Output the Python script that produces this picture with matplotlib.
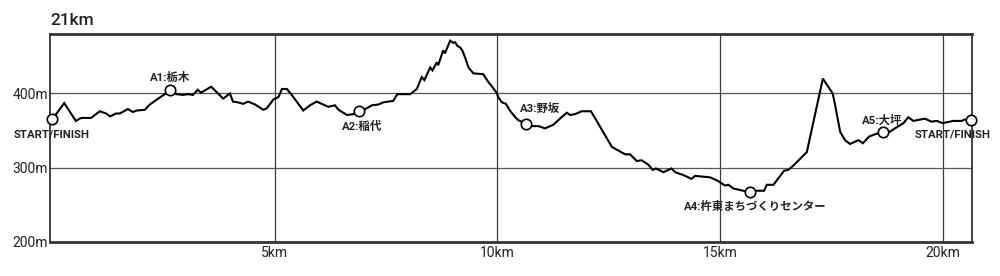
import matplotlib
matplotlib.use("Agg")
import matplotlib.pyplot as plt

plt.rcParams["font.family"] = ["Roboto", "Noto Sans CJK JP", "DejaVu Sans"]

# course profile: distance (km) and elevation (m)
distance_km = [
    0.00, 0.27, 0.53, 0.65, 0.87, 1.07, 1.21, 1.30, 1.43, 1.52, 1.70, 1.81, 1.90,
    2.08, 2.19, 2.38, 2.65, 2.79, 2.94, 3.05, 3.16, 3.27, 3.34, 3.57, 3.69, 3.84,
    3.99, 4.06, 4.17, 4.29, 4.40, 4.56, 4.74, 4.82, 4.97, 5.08, 5.16, 5.27, 5.38,
    5.64, 5.79, 5.94, 6.20, 6.35, 6.43, 6.62, 6.76, 6.90, 7.03, 7.18, 7.32, 7.44,
    7.66, 7.75, 8.04, 8.19, 8.30, 8.36, 8.49, 8.54, 8.64, 8.67, 8.71, 8.78, 8.82,
    8.94, 9.01, 9.05, 9.10, 9.16, 9.21, 9.27, 9.35, 9.46, 9.68, 9.80, 9.87, 9.98,
    10.02, 10.10, 10.19, 10.28, 10.40, 10.47, 10.64, 10.73, 10.92, 11.07, 11.26,
    11.44, 11.56, 11.63, 11.74, 11.89, 12.10, 12.23, 12.57, 12.87, 12.98, 13.13,
    13.24, 13.39, 13.49, 13.56, 13.73, 13.91, 13.99, 14.18, 14.36, 14.44, 14.78,
    14.96, 15.11, 15.19, 15.30, 15.45, 15.67, 15.82, 15.99, 16.05, 16.20, 16.44,
    16.53, 16.65, 16.95, 17.31, 17.53, 17.58, 17.70, 17.81, 17.92, 18.03, 18.11,
    18.21, 18.35, 18.48, 18.65, 18.75, 18.93, 19.12, 19.23, 19.34, 19.60, 19.75,
    19.87, 20.00, 20.24, 20.43, 20.50, 20.63,
]
elevation_m = [
    365, 387, 363, 367, 367, 376, 373, 369, 373, 373, 379, 375, 377,
    378, 385, 393, 404, 399, 398, 399, 398, 405, 401, 409, 402, 393,
    400, 389, 388, 386, 389, 385, 378, 380, 392, 395, 406, 406, 398,
    377, 384, 389, 382, 384, 378, 371, 372, 376, 379, 384, 385, 388,
    390, 399, 399, 406, 422, 418, 435, 431, 442, 438, 445, 458, 454,
    471, 468, 469, 464, 462, 458, 449, 435, 427, 426, 415, 410, 401,
    395, 388, 386, 377, 368, 364, 359, 356, 356, 353, 358,
    368, 374, 371, 372, 376, 376, 363, 328, 318, 318, 309,
    310, 304, 297, 299, 294, 299, 294, 290, 285, 289, 287,
    282, 276, 277, 272, 270, 267, 269, 269, 277, 277, 296,
    297, 303, 321, 420, 400, 386, 348, 337, 332, 335, 337,
    333, 342, 345, 348, 346, 353, 360, 368, 363, 366, 362,
    363, 360, 363, 363, 365, 364,
]

# aid stations
station_names = ["START/FINISH", "A1:栃木", "A2:稲代", "A3:野坂",
                 "A4:杵東まちづくりセンター", "A5:大坪", "START/FINISH"]
station_km = [0.00, 2.65, 6.90, 10.64, 15.67, 18.65, 20.63]
station_m = [365, 404, 376, 359, 267, 348, 364]
# label offset (px) and alignment
label_offsets = [(-1, -15), (0, 13), (3, -15), (-6, 16), (5, -14), (0, 12), (20, -14)]
label_ha = ["center", "center", "center", "left", "center", "center", "right"]

x_ticks = [5, 10, 15, 20]
y_ticks = [200, 300, 400]

fig = plt.figure(figsize=(10, 2.76), dpi=100)
ax = fig.add_axes([0.05, 0.1232, 0.922, 0.7536])

ax.set_xlim(-0.05, 20.66)
ax.set_ylim(200, 480)

for x in x_ticks:
    ax.axvline(x, color="#3a3a3a", linewidth=0.9, zorder=1)
for y in y_ticks[1:]:
    ax.axhline(y, color="#555555", linewidth=0.9, zorder=1)

ax.plot(distance_km, elevation_m, color="black", linewidth=1.5,
        solid_joinstyle="miter", zorder=3)
ax.plot(station_km, station_m, "o", markersize=7.5, markerfacecolor="white",
        markeredgecolor="black", markeredgewidth=1.2, zorder=4, clip_on=False)

for name, x, y, off, ha in zip(station_names, station_km, station_m,
                               label_offsets, label_ha):
    ax.annotate(name, (x, y), xytext=(off[0] * 0.72, off[1] * 0.72),
                textcoords="offset points", ha=ha, va="center",
                fontsize=8.2, fontweight="bold", color="#222222",
                annotation_clip=False)

ax.set_xticks(x_ticks)
ax.set_xticklabels([f"{x}km" for x in x_ticks])
ax.set_yticks(y_ticks)
ax.set_yticklabels([f"{y}m" for y in y_ticks])
ax.tick_params(length=0, labelsize=10, colors="#222222")
ax.tick_params(axis="x", pad=3)
ax.tick_params(axis="y", pad=1.5)

for side in ["top", "bottom"]:
    ax.spines[side].set_linewidth(2)
    ax.spines[side].set_color("#333333")
for side in ["left", "right"]:
    ax.spines[side].set_linewidth(1.2)
    ax.spines[side].set_color("#222222")

fig.text(0.05, 1 - 20.7 / 276, "21km", fontsize=12.5, fontweight="medium",
         color="#222222", ha="left", va="center")

fig.savefig("out.png", dpi=100)
